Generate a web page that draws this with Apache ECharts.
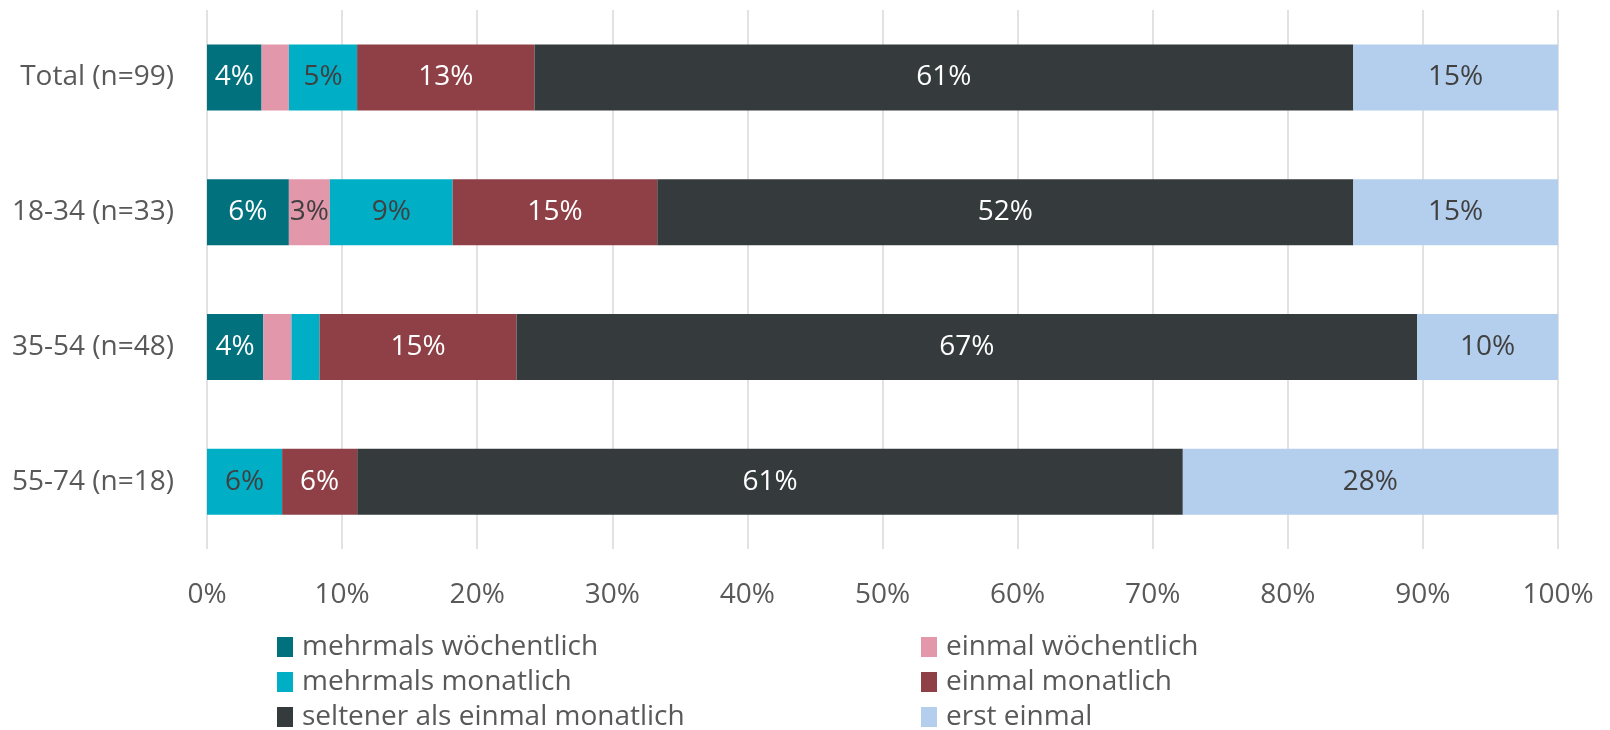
<!DOCTYPE html>
<html><head><meta charset="utf-8">
<script src="https://cdn.jsdelivr.net/npm/echarts@6/dist/echarts.min.js"></script>
<style>html,body{margin:0;padding:0;background:#fff}#c{width:1610px;height:730px}</style>
</head><body><div id="c"></div>
<script>
const categories = ['Total (n=99)', '18-34 (n=33)', '35-54 (n=48)', '55-74 (n=18)'];
const seriesNames = ['mehrmals wöchentlich', 'einmal wöchentlich', 'mehrmals monatlich', 'einmal monatlich', 'seltener als einmal monatlich', 'erst einmal'];
const mehrmalsWoechentlich = [4.04, 6.06, 4.17, 0];
const einmalWoechentlich = [2.02, 3.03, 2.08, 0];
const mehrmalsMonatlich = [5.05, 9.09, 2.08, 5.56];
const einmalMonatlich = [13.13, 15.15, 14.58, 5.56];
const seltener = [60.61, 51.52, 66.67, 61.11];
const erstEinmal = [15.15, 15.15, 10.42, 27.78];
const tickLabels = ['0%','10%','20%','30%','40%','50%','60%','70%','80%','90%','100%'];

const values = [mehrmalsWoechentlich, einmalWoechentlich, mehrmalsMonatlich, einmalMonatlich, seltener, erstEinmal];
const colors = ['#02717E', '#E397AA', '#00AFC6', '#8F4047', '#353B3D', '#B4CFED'];
const labelColors = ['#ffffff', '#404040', '#404040', '#ffffff', '#ffffff', '#404040'];
const FONT = 'Open Sans';
const FS = 28;

// legend placement: column 0 / 1, row 0..2
const legendCols = [277, 921];
const legendRows = [632, 667, 702];
const legends = seriesNames.map((name, i) => ({
  data: [name], orient: 'horizontal', left: legendCols[i % 2], top: legendRows[Math.floor(i / 2)],
  itemWidth: 16, itemHeight: 20, icon: 'rect', padding: 0,
  textStyle: { color: '#595959', fontSize: FS, fontFamily: FONT, lineHeight: 30, padding: [0, 0, 0, 4] }
}));

const chart = echarts.init(document.getElementById('c'));
chart.setOption({
  animation: false,
  textStyle: { fontFamily: FONT },
  grid: { left: 207, right: 52, top: 10, bottom: 181 },
  xAxis: {
    type: 'value', min: 0, max: 100, interval: 10,
    axisLine: { show: false }, axisTick: { show: false },
    splitLine: { lineStyle: { color: '#D9D9D9', width: 1.5 } },
    axisLabel: { color: '#595959', fontSize: FS, fontFamily: FONT, margin: 32,
      formatter: v => tickLabels[Math.round(v / 10)] }
  },
  yAxis: {
    type: 'category', data: categories, inverse: true,
    axisLine: { show: false }, axisTick: { show: false },
    axisLabel: { color: '#595959', fontSize: FS, fontFamily: FONT, margin: 33 }
  },
  legend: legends,
  series: seriesNames.map((name, i) => ({
    name, type: 'bar', stack: 'all', barWidth: 66,
    itemStyle: { color: colors[i] },
    label: { show: true, position: 'inside', color: labelColors[i], fontSize: FS, fontFamily: FONT,
      formatter: p => p.value < 2.5 ? '' : Math.round(p.value) + '%' },
    data: values[i]
  }))
});
</script></body></html>
